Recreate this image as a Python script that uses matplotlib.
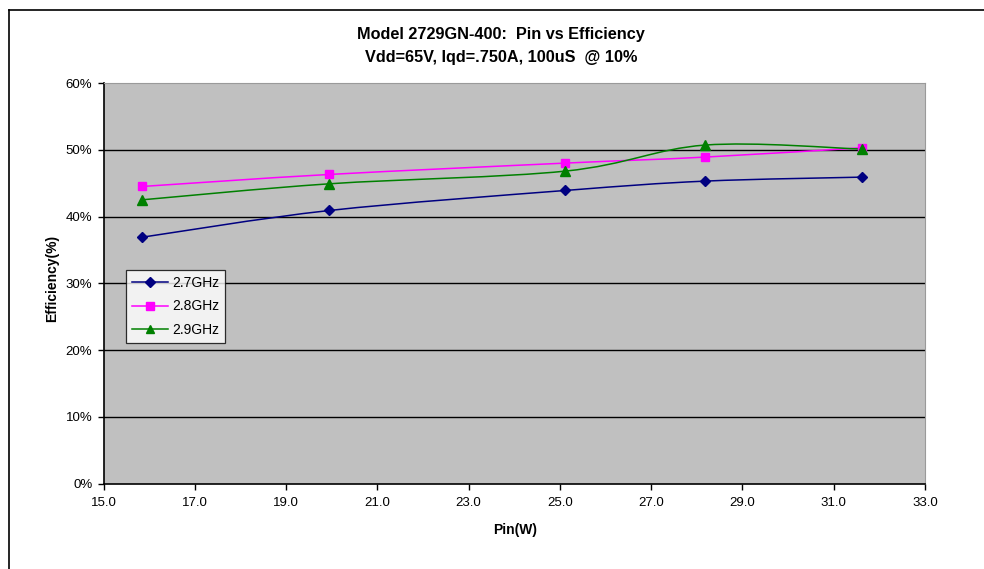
import matplotlib
matplotlib.use("Agg")
import matplotlib.pyplot as plt
import numpy as np
from matplotlib.path import Path
from matplotlib.patches import PathPatch
from matplotlib.lines import Line2D
from matplotlib.ticker import FuncFormatter

plt.rcParams['font.family'] = ['Liberation Sans', 'DejaVu Sans']

pin_w = [15.85, 19.95, 25.12, 28.18, 31.62]
eff_27 = [36.9, 40.9, 43.9, 45.3, 45.9]
eff_28 = [44.5, 46.3, 48.0, 48.9, 50.3]
eff_29 = [42.5, 44.9, 46.8, 50.7, 50.1]
series_names = ['2.7GHz', '2.8GHz', '2.9GHz']

W, H = 984, 569
fig = plt.figure(figsize=(W/100, H/100), dpi=100)
fig.patch.set_facecolor('white')

ax = fig.add_axes([103.5/W, 1-483.5/H, (925-103.5)/W, (483.5-83)/H])
ax.set_facecolor('#C0C0C0')
ax.set_xlim(15, 33)
ax.set_ylim(0, 60)
ax.set_xticks(np.arange(15, 33.1, 2))
ax.set_yticks(np.arange(0, 61, 10))
ax.xaxis.set_major_formatter(FuncFormatter(lambda v, p: f"{v:.1f}"))
ax.yaxis.set_major_formatter(FuncFormatter(lambda v, p: f"{v:.0f}%"))
ax.tick_params(axis='both', direction='out', length=4, width=1, labelsize=9.5, colors='black', pad=4)
ax.tick_params(axis='x', pad=6)
for y in range(10, 60, 10):
    ax.axhline(y, color='black', lw=1, zorder=1)
for s in ['left', 'bottom']:
    ax.spines[s].set_color('black')
    ax.spines[s].set_linewidth(1.2)
for s in ['top', 'right']:
    ax.spines[s].set_color('#9a9a9a')
    ax.spines[s].set_linewidth(0.8)


def smooth_path(x, y):
    x = np.asarray(x, float); y = np.asarray(y, float)
    n = len(x)
    verts = [(x[0], y[0])]
    codes = [Path.MOVETO]
    for i in range(n - 1):
        p0 = np.array([x[max(i-1, 0)], y[max(i-1, 0)]])
        p1 = np.array([x[i], y[i]])
        p2 = np.array([x[i+1], y[i+1]])
        p3 = np.array([x[min(i+2, n-1)], y[min(i+2, n-1)]])
        c1 = p1 + (p2 - p0) / 6.0
        c2 = p2 - (p3 - p1) / 6.0
        verts += [tuple(c1), tuple(c2), tuple(p2)]
        codes += [Path.CURVE4] * 3
    return Path(verts, codes)

styles = [
    (eff_27, '#000080', 'D', 5.5),
    (eff_28, '#FF00FF', 's', 6),
    (eff_29, '#008000', '^', 7),
]
handles = []
for (vals, col, mk, ms), name in zip(styles, series_names):
    patch = PathPatch(smooth_path(pin_w, vals), facecolor='none', edgecolor=col, lw=1.1, zorder=3)
    ax.add_patch(patch)
    ax.plot(pin_w, vals, linestyle='none', marker=mk, color=col, markersize=ms, zorder=4)
    handles.append(Line2D([], [], color=col, lw=1.1, marker=mk, markersize=ms*0.85))

leg = ax.legend(handles, series_names, loc='upper left',
                bbox_to_anchor=((126-103.5)/(925-103.5), (483.5-269.5)/(483.5-83)),
                frameon=True, fancybox=False, fontsize=10, handlelength=2.6,
                borderpad=0.45, labelspacing=0.7, handletextpad=0.25, borderaxespad=0)
leg.get_frame().set_edgecolor('black')
leg.get_frame().set_linewidth(0.9)
leg.get_frame().set_facecolor('white')

fig.text(501/W, 1-35/H, "Model 2729GN-400:  Pin vs Efficiency", ha='center', va='center',
         fontsize=11.7, fontweight='bold')
fig.text(501/W, 1-57/H, "Vdd=65V, Iqd=.750A, 100uS  @ 10%", ha='center', va='center',
         fontsize=11.7, fontweight='bold')
fig.text(52/W, 1-278/H, "Efficiency(%)", rotation=90, ha='center', va='center',
         fontsize=10, fontweight='bold')
fig.text(515/W, 1-530/H, "Pin(W)", ha='center', va='center', fontsize=10, fontweight='bold')

# chart area border
fig.add_artist(Line2D([8.5/W, 8.5/W], [0, 1-9.5/H], color='black', lw=1.2, transform=fig.transFigure))
fig.add_artist(Line2D([8.5/W, 1], [1-9.5/H, 1-9.5/H], color='black', lw=1.2, transform=fig.transFigure))

fig.savefig('out.png', dpi=100)
